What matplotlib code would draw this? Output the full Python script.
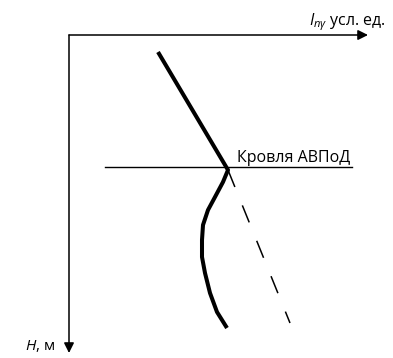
import numpy as np
import matplotlib.pyplot as plt

plt.rcParams['font.family'] = ['Open Sans', 'DejaVu Sans']
plt.rcParams['mathtext.fontset'] = 'custom'
plt.rcParams['mathtext.it'] = 'Open Sans:italic'
plt.rcParams['mathtext.rm'] = 'Open Sans'

# Каротажная кривая I_nγ (усл. ед.) по глубине H
I_log = [8.9, 15.9, 15.4, 14.6, 13.9, 13.4, 13.3, 13.3, 13.6, 14.1, 14.8, 15.8]
H_log = [1.7, 13.5, 14.7, 16.2, 17.5, 19.0, 20.5, 22.2, 23.8, 25.8, 27.7, 29.3]

# Продолжение тренда ниже кровли (нормальное уплотнение)
I_trend = [15.9, 22.1]
H_trend = [13.5, 28.8]

# Кровля зоны АВПоД
H_top = 13.2
I_top_line = [3.6, 28.3]

I_axis_end = 29.9
H_axis_end = 31.8

fig = plt.figure(figsize=(3.93, 3.58), dpi=100)
ax = fig.add_axes([0, 0, 1, 1])
ax.set_xlim(-6.9, 32.4)
ax.set_ylim(32.3, -3.5)
ax.axis('off')

# оси со стрелками
arrow = dict(arrowstyle='-|>', lw=1.1, color='black', mutation_scale=15,
             shrinkA=0, shrinkB=0)
ax.annotate('', xy=(I_axis_end, 0), xytext=(0, 0), arrowprops=arrow)
ax.annotate('', xy=(0, H_axis_end), xytext=(0, 0), arrowprops=arrow)

ax.text(24.0, -1.0, r'$I_{n\gamma}$ усл. ед.', fontsize=11.5, va='baseline', ha='left')
ax.text(-1.4, 31.5, r'$H$, м', fontsize=11, va='baseline', ha='right')

# линия кровли
ax.plot(I_top_line, [H_top, H_top], color='black', lw=1.0)
ax.text(16.8, 12.7, 'Кровля АВПоД', fontsize=11.5, va='baseline', ha='left')

ax.plot(I_trend, H_trend, color='black', lw=1.1, linestyle=(0, (12, 13)))
ax.plot(I_log, H_log, color='black', lw=2.9, solid_capstyle='butt',
        solid_joinstyle='round')

fig.savefig('out.png', dpi=100)
